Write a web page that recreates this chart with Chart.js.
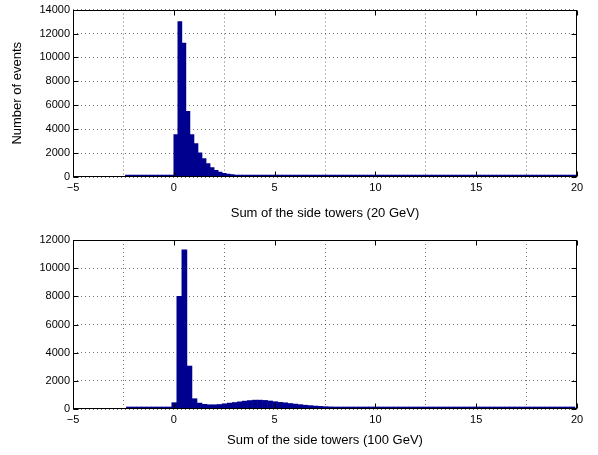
<!DOCTYPE html>
<html>
<head>
<meta charset="utf-8">
<script src="https://cdn.jsdelivr.net/npm/chart.js@4/dist/chart.umd.min.js"></script>
<style>
  html, body { margin: 0; padding: 0; background: #fff; }
  #wrap { position: relative; width: 598px; height: 455px; }
  canvas { position: absolute; left: 0; }
  #top { top: 0; }
  #bottom { top: 228px; }
</style>
</head>
<body>
<div id="wrap">
  <canvas id="top" width="598" height="228"></canvas>
  <canvas id="bottom" width="598" height="227"></canvas>
</div>
<script>
// x ticks shared by both panels
const xTicks = [-5, 0, 5, 10, 15, 20];

// top panel: 20 GeV, histogram bins of 0.2 starting at -2.4
const topBinStart = -2.4;
const topBinWidth = 0.2;
const topCounts = [
    0, 0, 0, 0, 0, 0, 0, 0, 0, 5, 10, 80,
    3540, 13000, 11200, 5500, 3550, 2800, 2020, 1550, 1130, 780,
    550, 420, 310, 250, 210, 170, 135, 110, 90, 75,
    65, 58, 52, 46, 41, 37, 33, 29, 26, 23,
    21, 19, 17, 15, 13, 12, 11, 10, 9, 8,
    7, 7, 6, 6, 5, 5, 5, 4, 4, 4,
    3, 3, 3, 3, 2, 2, 2, 2, 2, 2,
    2, 1, 1, 1, 1, 1, 1, 1, 1, 1,
    1, 1, 1, 1, 0, 1, 0, 1, 0, 0,
    1, 0, 0, 1, 0, 0, 0, 1, 0, 0,
    0, 0, 1, 0, 0, 0, 0, 0, 1, 0
];
const topYTicks = [0, 2000, 4000, 6000, 8000, 10000, 12000, 14000];

// bottom panel: 100 GeV, histogram bins of 0.25 starting at -2.35
const botBinStart = -2.35;
const botBinWidth = 0.25;
const botCounts = [
    0, 0, 0, 0, 0, 0, 5, 15, 40,
    450, 8000, 11300, 3050, 730, 420, 330, 300, 300, 320,
    370, 420, 460, 510, 560, 600, 630, 630, 610, 570,
    520, 470, 440, 390, 350, 310, 270, 240, 210, 185,
    165, 150, 135, 120, 105, 95, 85, 75, 70, 65,
    60, 56, 52, 48, 45, 42, 39, 36, 33, 30,
    28, 26, 24, 22, 20, 18, 16, 14, 12, 10,
    9, 8, 7, 6, 5, 5, 4, 4, 3, 3,
    2, 2, 2, 1, 1, 1, 1, 1, 0, 1
];
const botYTicks = [0, 2000, 4000, 6000, 8000, 10000, 12000];

const FONT = '"Liberation Sans", Arial, Helvetica, sans-serif';
const BAR_COLOR = '#00008f';

// MATLAB style box with inward tick marks
const boxPlugin = {
    id: 'box',
    afterDatasetsDraw(chart) {
        const { ctx, chartArea: a, scales: { x, y } } = chart;
        const L = Math.round(a.left) + 0.5, R = Math.round(a.right) - 0.5;
        const T = Math.round(a.top) + 0.5, B = Math.round(a.bottom) - 0.5;
        ctx.save();
        ctx.strokeStyle = '#000';
        ctx.lineWidth = 1;
        ctx.beginPath();
        x.ticks.forEach(t => {
            const px = Math.round(x.getPixelForValue(t.value)) + 0.5;
            ctx.moveTo(px, B); ctx.lineTo(px, B - 5);
            ctx.moveTo(px, T); ctx.lineTo(px, T + 5);
        });
        y.ticks.forEach(t => {
            const py = Math.round(y.getPixelForValue(t.value)) + 0.5;
            ctx.moveTo(L, py); ctx.lineTo(L + 5, py);
            ctx.moveTo(R, py); ctx.lineTo(R - 5, py);
        });
        ctx.stroke();
        ctx.strokeRect(L, T, R - L, B - T);
        ctx.restore();
    }
};

function makePanel(id, binStart, binWidth, counts, yTicks, xTitle, yTitle, areaTop, areaBottom, canvasH) {
    const points = counts.map((c, i) => ({ x: binStart + (i + 0.5) * binWidth, y: c }));
    new Chart(document.getElementById(id), {
        type: 'bar',
        data: {
            datasets: [{
                data: points,
                backgroundColor: BAR_COLOR,
                borderWidth: 0,
                barPercentage: 1,
                categoryPercentage: 1,
                minBarLength: 2
            }]
        },
        options: {
            responsive: false,
            animation: false,
            devicePixelRatio: 1,
            layout: { padding: { left: 0, right: 21, top: areaTop, bottom: 0 } },
            plugins: { legend: { display: false }, tooltip: { enabled: false } },
            scales: {
                x: {
                    type: 'linear',
                    min: xTicks[0],
                    max: xTicks[xTicks.length - 1],
                    offset: false,
                    afterBuildTicks: s => { s.ticks = xTicks.map(v => ({ value: v })); },
                    afterFit: s => { s.height = canvasH - areaBottom; },
                    grid: { color: 'rgba(0,0,0,0.55)', drawTicks: false },
                    border: { display: false, dash: [1, 3] },
                    ticks: {
                        padding: 4,
                        color: '#000',
                        font: { family: FONT, size: 11 },
                        callback: v => v < 0 ? '\u2212' + Math.abs(v) : String(v)
                    },
                    title: {
                        display: true,
                        text: xTitle,
                        color: '#000',
                        font: { family: FONT, size: 13 },
                        padding: { top: 0, bottom: 7 }
                    }
                },
                y: {
                    min: yTicks[0],
                    max: yTicks[yTicks.length - 1],
                    afterBuildTicks: s => { s.ticks = yTicks.map(v => ({ value: v })); },
                    afterFit: s => { s.width = 73; },
                    grid: { color: 'rgba(0,0,0,0.55)', drawTicks: false },
                    border: { display: false, dash: [1, 3] },
                    ticks: {
                        padding: 3,
                        color: '#000',
                        font: { family: FONT, size: 11 },
                        callback: v => String(v)
                    },
                    title: {
                        display: !!yTitle,
                        text: yTitle,
                        color: '#000',
                        font: { family: FONT, size: 13 },
                        padding: { top: 10, bottom: 0 }
                    }
                }
            }
        },
        plugins: [boxPlugin]
    });
}

makePanel('top', topBinStart, topBinWidth, topCounts, topYTicks,
    'Sum of the side towers (20 GeV)', 'Number of events', 9, 177, 228);
makePanel('bottom', botBinStart, botBinWidth, botCounts, botYTicks,
    'Sum of the side towers (100 GeV)', '', 12, 181, 227);
</script>
</body>
</html>
